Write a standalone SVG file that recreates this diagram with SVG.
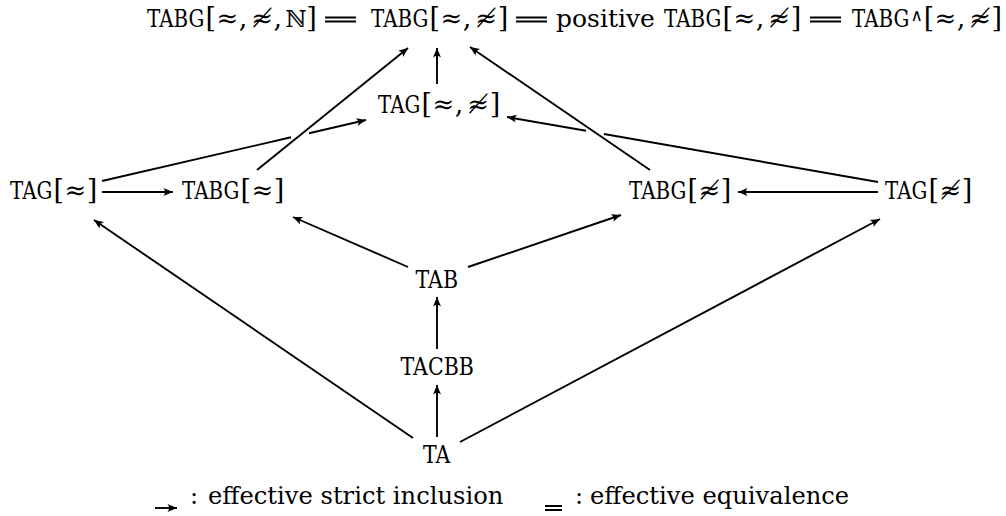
<svg xmlns="http://www.w3.org/2000/svg" width="1006" height="516" viewBox="0 0 1006 516">
<style>
.tt{font-family:"DejaVu Serif",serif;font-size:24.5px;fill:#000}
.rm{font-family:"DejaVu Serif",serif;font-size:27px;fill:#000}
.tx{font-family:"DejaVu Serif",serif;font-size:24.2px;fill:#000}
.sy{font-family:"DejaVu Serif","DejaVu Sans",serif;font-size:26px;fill:#000}
.nn{font-family:"DejaVu Serif","DejaVu Sans",serif;font-size:23px;fill:#000}
.sup{font-family:"DejaVu Sans",sans-serif;font-size:17px;fill:#000}
.ln{stroke:#000;stroke-width:1.9;fill:none}
.ar{marker-end:url(#ah)}
.eq{stroke:#000;stroke-width:1.9;fill:none}
</style>
<defs>
<marker id="ah" viewBox="-10 -5 11 10" refX="0" refY="0" markerWidth="11" markerHeight="10" markerUnits="userSpaceOnUse" orient="auto">
<path d="M0,0 L-9.5,-4 Q-6.2,0 -9.5,4 Z" fill="#000"/>
</marker>
</defs>

<g id="n-tabg-full">
<text class="tt" transform="translate(147 27) scale(0.81 1)">TABG</text>
<text y="27"><tspan class="rm" x="205.6">[</tspan><tspan class="sy" x="216.5">≈</tspan><tspan class="rm" x="238.8">,</tspan><tspan class="sy" x="251.2">≉</tspan><tspan class="rm" x="273.6">,</tspan><tspan class="nn" x="285.6">ℕ</tspan><tspan class="rm" x="306.2">]</tspan></text>
</g>
<g id="n-tabg">
<text class="tt" transform="translate(371 27) scale(0.81 1)">TABG</text>
<text y="27"><tspan class="rm" x="429.6">[</tspan><tspan class="sy" x="440.5">≈</tspan><tspan class="rm" x="462.8">,</tspan><tspan class="sy" x="475.2">≉</tspan><tspan class="rm" x="497.8">]</tspan></text>
</g>
<g id="n-tabg-pos">
<text class="tx" x="556" y="27" style="font-size:25px">positive</text>
<text class="tt" transform="translate(664 27) scale(0.81 1)">TABG</text>
<text y="27"><tspan class="rm" x="722.6">[</tspan><tspan class="sy" x="733.5">≈</tspan><tspan class="rm" x="755.8">,</tspan><tspan class="sy" x="768.2">≉</tspan><tspan class="rm" x="790.8">]</tspan></text>
</g>
<g id="n-tabg-wedge">
<text class="tt" transform="translate(852 27) scale(0.81 1)">TABG</text>
<text class="sup" x="910.4" y="20.5">∧</text>
<text y="27"><tspan class="rm" x="923.8">[</tspan><tspan class="sy" x="934.6">≈</tspan><tspan class="rm" x="956.8">,</tspan><tspan class="sy" x="969.2">≉</tspan><tspan class="rm" x="991.6">]</tspan></text>
</g>
<g id="n-tag-both">
<text class="tt" transform="translate(378 113) scale(0.81 1)">TAG</text>
<text y="113"><tspan class="rm" x="421.6">[</tspan><tspan class="sy" x="432.5">≈</tspan><tspan class="rm" x="454.8">,</tspan><tspan class="sy" x="467.2">≉</tspan><tspan class="rm" x="489.8">]</tspan></text>
</g>
<g id="n-tag-approx">
<text class="tt" transform="translate(10 199) scale(0.81 1)">TAG</text>
<text y="199"><tspan class="rm" x="53.6">[</tspan><tspan class="sy" x="64.5">≈</tspan><tspan class="rm" x="86.8">]</tspan></text>
</g>
<g id="n-tabg-approx">
<text class="tt" transform="translate(182 199) scale(0.81 1)">TABG</text>
<text y="199"><tspan class="rm" x="240.6">[</tspan><tspan class="sy" x="251.5">≈</tspan><tspan class="rm" x="273.8">]</tspan></text>
</g>
<g id="n-tabg-napprox">
<text class="tt" transform="translate(629 199) scale(0.81 1)">TABG</text>
<text y="199"><tspan class="rm" x="687.6">[</tspan><tspan class="sy" x="698.5">≉</tspan><tspan class="rm" x="720.8">]</tspan></text>
</g>
<g id="n-tag-napprox">
<text class="tt" transform="translate(885 199) scale(0.81 1)">TAG</text>
<text y="199"><tspan class="rm" x="928.6">[</tspan><tspan class="sy" x="939.5">≉</tspan><tspan class="rm" x="961.8">]</tspan></text>
</g>
<g id="n-tab">
<text class="tt" transform="translate(415.5 288) scale(0.84 1)">TAB</text>
</g>
<g id="n-tacbb">
<text class="tt" transform="translate(400.5 375) scale(0.84 1)">TACBB</text>
</g>
<g id="n-ta">
<text class="tt" transform="translate(423 463) scale(0.84 1)">TA</text>
</g>

<g id="connectors">
<path class="eq" d="M325,17.5 H356 M325,21.5 H356"/>
<path class="eq" d="M516,17.5 H547 M516,21.5 H547"/>
<path class="eq" d="M810,17.5 H841 M810,21.5 H841"/>
<path class="ln ar" d="M437,84 L437,48"/>
<path class="ln ar" d="M257,170 L408,48"/>
<path class="ln ar" d="M650,170 L470,47"/>
<path class="ln" d="M102,181 L291,137.3"/>
<path class="ln ar" d="M309,133.2 L366,120"/>
<path class="ln" d="M878,182 L604,134"/>
<path class="ln ar" d="M586,130.8 L507,117"/>
<path class="ln ar" d="M102,192 L173,192"/>
<path class="ln ar" d="M878,192 L738,192"/>
<path class="ln ar" d="M408,267 L293,217"/>
<path class="ln ar" d="M468,267 L621,215"/>
<path class="ln ar" d="M437,349 L437,297"/>
<path class="ln ar" d="M437,437 L437,385"/>
<path class="ln ar" d="M413,438 L94,220"/>
<path class="ln ar" d="M460,442 L880,219"/>
</g>

<g id="legend">
<path class="ln ar" d="M155,508 L177,508"/>
<text y="504" class="tx"><tspan x="190">:</tspan><tspan x="208">effective strict inclusion</tspan></text>
<path class="eq" d="M545,506 H562 M545,510 H562"/>
<text y="504" class="tx"><tspan x="575">:</tspan><tspan x="590">effective equivalence</tspan></text>
</g>
</svg>
